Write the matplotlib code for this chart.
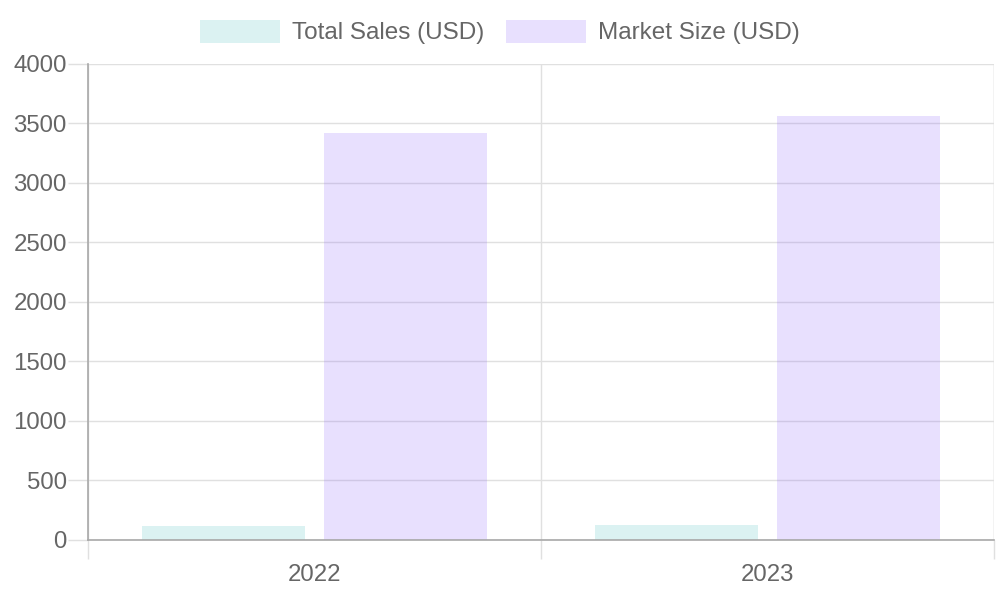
import matplotlib
matplotlib.use("Agg")
import matplotlib.pyplot as plt
from matplotlib.patches import Rectangle
import numpy as np

categories = ["2022", "2023"]
total_sales = [115, 118]
market_size = [3420, 3560]
series_labels = ["Total Sales (USD)", "Market Size (USD)"]
yticks = [0, 500, 1000, 1500, 2000, 2500, 3000, 3500, 4000]

c_sales = (75 / 255, 192 / 255, 192 / 255, 0.2)
c_market = (140 / 255, 102 / 255, 250 / 255, 0.2)
text_col = "#666666"
grid_col = "#e0e0e0"
axis_col = "#a8a8a8"

plt.rcParams['font.family'] = ['Liberation Sans', 'DejaVu Sans']

fig = plt.figure(figsize=(10, 6), dpi=100)
ax = fig.add_axes([0.088, 1 - 539.5 / 600, 0.906, (539.5 - 64) / 600])

x = np.arange(len(categories))
w = 0.36
ax.bar(x - 0.2, total_sales, w, color=c_sales, linewidth=0, zorder=2)
ax.bar(x + 0.2, market_size, w, color=c_market, linewidth=0, zorder=2)

ax.set_xlim(-0.5, len(categories) - 0.5)
ax.set_ylim(0, 4000)

ax.set_yticks(yticks)
ax.set_yticklabels([str(v) for v in yticks])
ax.tick_params(axis='y', length=14.4, width=1, color=grid_col, pad=0.8, labelsize=17.3, labelcolor=text_col)
ax.yaxis.grid(True, color=grid_col, linewidth=1, zorder=0)

ax.set_xticks(x)
ax.set_xticklabels(categories)
ax.set_xticks(np.arange(-0.5, len(categories)), minor=True)
ax.tick_params(axis='x', which='major', length=0, pad=17.5, labelsize=17.3, labelcolor=text_col)
ax.tick_params(axis='x', which='minor', length=14, width=1, color=grid_col)
ax.xaxis.grid(True, which='minor', color=grid_col, linewidth=1, zorder=0)
ax.set_axisbelow(True)

for s in ['top', 'right']:
    ax.spines[s].set_visible(False)
ax.spines['left'].set_color(axis_col)
ax.spines['bottom'].set_color(axis_col)
ax.spines['left'].set_linewidth(1.2)
ax.spines['bottom'].set_linewidth(1.2)
ax.spines['left'].set_zorder(3)
ax.spines['bottom'].set_zorder(3)
ax.axvline(1.5, color=grid_col, linewidth=1, zorder=0)

def fx(px):
    return px / 1000
def fy(py):
    return 1 - py / 600

legend_items = [(200, 292, c_sales, series_labels[0]),
                (506, 598, c_market, series_labels[1])]
for bx, tx, fc, lab in legend_items:
    fig.add_artist(Rectangle((fx(bx), fy(43)), 80 / 1000, 23 / 600, transform=fig.transFigure,
                             facecolor=fc, linewidth=0))
    fig.text(fx(tx), fy(33), lab, fontsize=17.5, color=text_col, va='center', ha='left')

fig.savefig("out.png", dpi=100)
